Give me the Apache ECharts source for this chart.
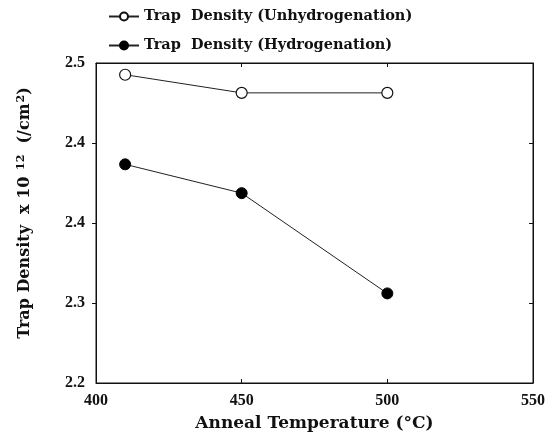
<!DOCTYPE html>
<html>
<head>
<meta charset="utf-8">
<script src="https://cdn.jsdelivr.net/npm/echarts@6/dist/echarts.min.js"></script>
<style>
  html, body { margin: 0; padding: 0; background: #fff; }
  #chart { width: 558px; height: 444px; }
</style>
</head>
<body>
<div id="chart"></div>
<script>
// Anneal temperatures (°C)
const temperatures = [410, 450, 500];
// Trap density x 10^12 (/cm^2)
const unhydrogenated = [2.489, 2.472, 2.472];
const hydrogenated = [2.405, 2.378, 2.284];

const seriesNames = ['Trap  Density (Unhydrogenation)', 'Trap  Density (Hydrogenation)'];

// y ticks: five evenly spaced positions, labels rounded to one decimal
const yTickValues = [2.2, 2.275, 2.35, 2.425, 2.5];
const yTickLabels = ['2.2', '2.3', '2.4', '2.4', '2.5'];
const xTickLabels = [400, 450, 500, 550];
const xInnerTicks = [450, 500];

const serif = '"Liberation Serif", "DejaVu Serif", serif';
const wideSerif = '"DejaVu Serif", "Liberation Serif", serif';
const chart = echarts.init(document.getElementById('chart'), null, { renderer: 'canvas' });

const pairs = (ys) => temperatures.map((t, i) => [t, ys[i]]);

chart.setOption({
  animation: false,
  backgroundColor: '#ffffff',
  textStyle: { fontFamily: serif, color: '#000' },
  legend: {
    orient: 'vertical',
    left: 103,
    top: 4,
    itemGap: 14,
    itemWidth: 30,
    itemHeight: 10,
    textStyle: { fontFamily: wideSerif, fontWeight: 'bold', fontSize: 14.5, color: '#111' },
    data: seriesNames
  },
  grid: {
    left: 96, right: 25, top: 63, bottom: 61,
    show: true, borderColor: '#111', borderWidth: 1, backgroundColor: 'transparent'
  },
  xAxis: [{
    type: 'value',
    min: 400, max: 550, interval: 50,
    name: 'Anneal Temperature (°C)',
    nameLocation: 'middle',
    nameGap: 32,
    nameTextStyle: { fontFamily: wideSerif, fontWeight: 'bold', fontSize: 17, color: '#111' },
    axisLine: { show: true, lineStyle: { color: '#111', width: 1 } },
    axisTick: { show: true, inside: true, length: 4, customValues: xInnerTicks, lineStyle: { color: '#111' } },
    axisLabel: {
      customValues: xTickLabels, margin: 10,
      fontFamily: serif, fontWeight: 'bold', fontSize: 16, color: '#111'
    },
    splitLine: { show: false }
  }, {
    type: 'value',
    position: 'top',
    min: 400, max: 550, interval: 50,
    axisLine: { show: true, lineStyle: { color: '#111', width: 1 } },
    axisTick: { show: true, inside: true, length: 4, customValues: xInnerTicks, lineStyle: { color: '#111' } },
    axisLabel: { show: false },
    splitLine: { show: false }
  }],
  yAxis: [{
    type: 'value',
    min: 2.2, max: 2.5,
    name: '{t|Trap Density  x 10 }{s|12}{t|  (/cm}{s|2}{t|)}',
    nameLocation: 'middle',
    nameRotate: 90,
    nameGap: 63,
    nameTextStyle: {
      padding: [0, 0, 0, 20],
      rich: {
        t: { fontFamily: wideSerif, fontWeight: 'bold', fontSize: 16, color: '#111', lineHeight: 17, verticalAlign: 'bottom' },
        s: { fontFamily: wideSerif, fontWeight: 'bold', fontSize: 11, color: '#111', lineHeight: 17, verticalAlign: 'top', padding: [0, 0, 0, 1] }
      }
    },
    axisLine: { show: true, lineStyle: { color: '#111', width: 1 } },
    axisTick: { show: true, inside: false, length: 4, customValues: yTickValues.slice(1, 4), lineStyle: { color: '#111' } },
    axisLabel: {
      customValues: yTickValues, margin: 11,
      fontFamily: serif, fontWeight: 'bold', fontSize: 16, color: '#111',
      formatter: (v) => {
        const i = yTickValues.findIndex((t) => Math.abs(t - v) < 1e-6);
        return i >= 0 ? yTickLabels[i] : '';
      }
    },
    splitLine: { show: false }
  }, {
    type: 'value',
    position: 'right',
    min: 2.2, max: 2.5,
    axisLine: { show: true, lineStyle: { color: '#111', width: 1 } },
    axisTick: { show: true, inside: true, length: 4, customValues: yTickValues.slice(1, 4), lineStyle: { color: '#111' } },
    axisLabel: { show: false },
    splitLine: { show: false }
  }],
  series: [{
    name: seriesNames[0],
    type: 'line',
    data: pairs(unhydrogenated),
    symbol: 'circle',
    symbolSize: 11,
    showAllSymbol: true,
    lineStyle: { color: '#222', width: 1 },
    itemStyle: { color: '#fff', borderColor: '#111', borderWidth: 1.2 }
  }, {
    name: seriesNames[1],
    type: 'line',
    data: pairs(hydrogenated),
    symbol: 'circle',
    symbolSize: 11,
    showAllSymbol: true,
    lineStyle: { color: '#222', width: 1 },
    itemStyle: { color: '#000', borderColor: '#000', borderWidth: 1 }
  }]
});
</script>
</body>
</html>
